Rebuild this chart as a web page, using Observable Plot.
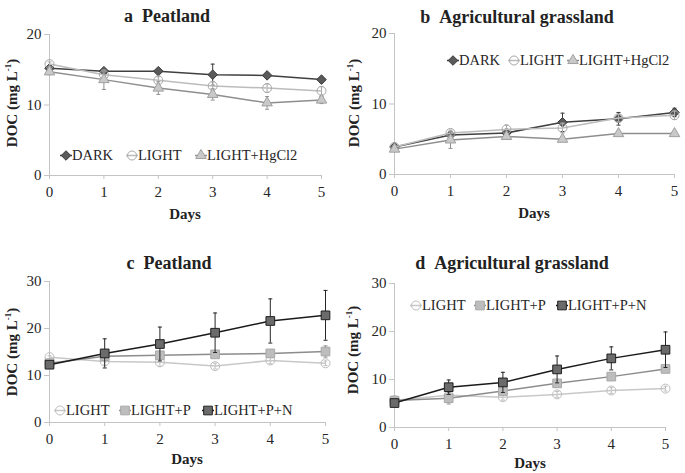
<!DOCTYPE html>
<html><head><meta charset="utf-8">
<script src="https://cdn.jsdelivr.net/npm/d3@7"></script>
<script src="https://cdn.jsdelivr.net/npm/@observablehq/plot@0.6"></script>
<style>
body{margin:0;background:#fff;}
#fig{position:relative;width:685px;height:473px;font-family:"Liberation Serif","Times New Roman",serif;color:#222;overflow:hidden;}
.title{position:absolute;font-weight:bold;font-size:18px;white-space:nowrap;transform:translate(-50%,-50%);}
.xlab{position:absolute;font-weight:bold;font-size:15px;white-space:nowrap;transform:translate(-50%,-50%);}
.ylab{position:absolute;font-weight:bold;font-size:15px;white-space:nowrap;transform:translate(-50%,-50%) rotate(-90deg);}
.ylab sup{font-size:9px;}
.leg{position:absolute;font-size:14.5px;white-space:nowrap;display:flex;align-items:center;transform:translateY(-50%);color:#262626;}
.leg svg{display:block;}
</style></head><body><div id="fig"></div>
<script>
// ---------------- data ----------------
const days = [0, 1, 2, 3, 4, 5];
const ticks20 = [0, 10, 20];
const ticks30 = [0, 10, 20, 30];

// a  Peatland
const aDark = [15.2, 14.8, 14.8, 14.3, 14.2, 13.6];
const aDarkErr = [0.3, 0.2, 0.2, 1.5, 0.3, 0.3];
const aLight = [15.8, 14.3, 13.5, 12.7, 12.4, 12.0];
const aLightErr = [0.3, 0.4, 0.5, 0.6, 0.6, 0.6];
const aHg = [14.7, 13.6, 12.4, 11.5, 10.3, 10.7];
const aHgErr = [0.4, 1.4, 0.9, 0.8, 0.9, 0.5];

// b  Agricultural grassland
const bDark = [3.9, 5.6, 5.9, 7.4, 7.9, 8.8];
const bDarkErr = [0.2, 0.4, 0.5, 1.3, 0.9, 0.6];
const bLight = [3.9, 5.9, 6.4, 6.6, 8.0, 8.4];
const bLightErr = [0.2, 0.4, 0.6, 0.7, 0.5, 0.6];
const bHg = [3.6, 4.9, 5.4, 5.0, 5.8, 5.8];
const bHgErr = [0.2, 1.2, 0.4, 0.3, 0.3, 0.3];

// c  Peatland (nutrients)
const cLight = [13.9, 13.0, 12.8, 12.0, 13.2, 12.6];
const cLightErr = [0.3, 0.8, 0.8, 0.6, 0.7, 0.5];
const cP = [12.6, 14.1, 14.3, 14.5, 14.7, 15.1];
const cPErr = [0.3, 0.8, 0.7, 0.5, 0.5, 1.2];
const cPN = [12.3, 14.7, 16.7, 19.1, 21.6, 22.8];
const cPNErr = [0.3, 3.1, 3.6, 4.2, 4.7, 5.3];

// d  Agricultural grassland (nutrients)
const dLight = [5.7, 6.7, 6.3, 6.9, 7.7, 8.1];
const dLightErr = [0.3, 0.8, 0.6, 0.6, 0.6, 0.5];
const dP = [5.6, 6.1, 7.6, 9.2, 10.6, 12.2];
const dPErr = [0.4, 1.2, 0.7, 0.8, 0.6, 0.6];
const dPN = [5.1, 8.4, 9.4, 12.1, 14.4, 16.2];
const dPNErr = [0.4, 1.5, 2.1, 2.8, 2.4, 3.7];

// ---------------- styles ----------------
const axisColor = "#c4c4c4";
const textColor = "#262626";
const styles = {
  DARK:   {symbol: "diamond2", d3sym: d3.symbolDiamond2, r: 4.3, fill: "#5a5a5a", stroke: "#3a3a3a", line: "#404040", err: "#3a3a3a"},
  LIGHT:  {symbol: "circle",   d3sym: d3.symbolCircle,   r: 4.5, fill: "none",    stroke: "#a8a8a8", line: "#bcbcbc", err: "#a8a8a8"},
  HG:     {symbol: "triangle", d3sym: d3.symbolTriangle, r: 3.9, fill: "#c9c9c9", stroke: "#a0a0a0", line: "#8e8e8e", err: "#8e8e8e"},
  P:      {symbol: "square",   d3sym: d3.symbolSquare,   r: 4.9, fill: "#bdbdbd", stroke: "#a8a8a8", line: "#8c8c8c", err: "#8c8c8c"},
  PN:     {symbol: "square",   d3sym: d3.symbolSquare,   r: 4.9, fill: "#6b6b6b", stroke: "#202020", line: "#1a1a1a", err: "#262626"},
  LIGHT2: {symbol: "circle",   d3sym: d3.symbolCircle,   r: 4.5, fill: "none",    stroke: "#bdbdbd", line: "#c8c8c8", err: "#bdbdbd"}
};
const cap = {draw(ctx) { ctx.moveTo(-2, 0); ctx.lineTo(2, 0); }};

const panels = [
  {title: "a\u2002Peatland", tx: 167, ty: 16, left: 0, top: 20, width: 340, height: 200,
   mt: 14, mb: 45, ml: 49, mr: 19, yMax: 20, yTicks: ticks20, ylx: 12, yly: 103, xlx: 185, xly: 214,
   series: [["DARK", "DARK", aDark, aDarkErr], ["LIGHT", "LIGHT", aLight, aLightErr], ["LIGHT+HgCl2", "HG", aHg, aHgErr]],
   legend: {y: 155, xs: [60, 126, 195]}},
  {title: "b\u2002Agricultural grassland", tx: 517, ty: 17, left: 340, top: 20, width: 345, height: 200,
   mt: 13, mb: 46, ml: 54, mr: 11, yMax: 20, yTicks: ticks20, ylx: 354, yly: 103, xlx: 534, xly: 213,
   series: [["DARK", "DARK", bDark, bDarkErr], ["LIGHT", "LIGHT", bLight, bLightErr], ["LIGHT+HgCl2", "HG", bHg, bHgErr]],
   legend: {y: 60, xs: [447, 508, 567]}},
  {title: "c\u2002Peatland", tx: 169, ty: 263, left: 0, top: 265, width: 340, height: 208,
   mt: 16, mb: 51, ml: 49, mr: 15, yMax: 30, yTicks: ticks30, ylx: 12, yly: 352, xlx: 187, xly: 459,
   series: [["LIGHT", "LIGHT2", cLight, cLightErr], ["LIGHT+P", "P", cP, cPErr], ["LIGHT+P+N", "PN", cPN, cPNErr]],
   legend: {y: 410, xs: [54, 119, 202]}},
  {title: "d\u2002Agricultural grassland", tx: 512, ty: 263, left: 340, top: 265, width: 345, height: 208,
   mt: 18, mb: 46, ml: 54, mr: 20, yMax: 30, yTicks: ticks30, ylx: 353, yly: 350, xlx: 530, xly: 463,
   series: [["LIGHT", "LIGHT2", dLight, dLightErr], ["LIGHT+P", "P", dP, dPErr], ["LIGHT+P+N", "PN", dPN, dPNErr]],
   legend: {y: 305, xs: [410, 474, 556]}}
];

const fig = document.getElementById("fig");

function div(cls, html, x, y) {
  const e = document.createElement("div");
  e.className = cls;
  e.innerHTML = html;
  e.style.left = x + "px";
  e.style.top = y + "px";
  fig.appendChild(e);
  return e;
}

for (const p of panels) {
  const marks = [
    Plot.ruleY([0], {stroke: axisColor}),
    Plot.ruleX([0], {stroke: axisColor}),
    Plot.axisX({ticks: days, tickSize: 4, tickPadding: 7, stroke: axisColor, fill: textColor, fontSize: 15, label: null, tickFormat: d3.format("d")}),
    Plot.axisY({ticks: p.yTicks, tickSize: 5, tickPadding: 3, stroke: axisColor, fill: textColor, fontSize: 15, label: null, tickFormat: d3.format("d")})
  ];
  for (const [name, key, vals, errs] of p.series) {
    const st = styles[key];
    const rows = days.map((d, i) => ({day: d, v: vals[i], lo: vals[i] - errs[i], hi: vals[i] + errs[i]}));
    marks.push(Plot.ruleX(rows, {x: "day", y1: "lo", y2: "hi", stroke: st.err, strokeWidth: 1}));
    marks.push(Plot.dot(rows, {x: "day", y: "hi", symbol: cap, fill: "none", stroke: st.err, strokeWidth: 1}));
    marks.push(Plot.dot(rows, {x: "day", y: "lo", symbol: cap, fill: "none", stroke: st.err, strokeWidth: 1}));
    marks.push(Plot.line(rows, {x: "day", y: "v", stroke: st.line, strokeWidth: 1.5}));
    marks.push(Plot.dot(rows, {x: "day", y: "v", symbol: st.symbol, r: st.r, fill: st.fill, stroke: st.stroke, strokeWidth: 1}));
  }
  const svg = Plot.plot({
    width: p.width, height: p.height,
    marginTop: p.mt, marginBottom: p.mb, marginLeft: p.ml, marginRight: p.mr,
    x: {domain: [0, 5]},
    y: {domain: [0, p.yMax]},
    style: {fontFamily: '"Liberation Serif", "Times New Roman", serif', fontSize: "15px", background: "transparent", overflow: "visible", color: textColor},
    marks
  });
  svg.style.position = "absolute";
  svg.style.left = p.left + "px";
  svg.style.top = p.top + "px";
  fig.appendChild(svg);

  div("title", p.title, p.tx, p.ty);
  div("ylab", "DOC (mg L<sup>-1</sup>)", p.ylx, p.yly);
  div("xlab", "Days", p.xlx, p.xly);

  p.series.forEach(([name, key], i) => {
    const st = styles[key];
    const size = Math.PI * st.r * st.r;
    const path = d3.symbol(st.d3sym, size)();
    const sw = 12, sh = 14;
    const html = `<svg width="${sw}" height="${sh}"><line x1="0" x2="${sw}" y1="${sh / 2}" y2="${sh / 2}" stroke="${st.line}" stroke-width="1.5"/>` +
      `<path d="${path}" transform="translate(${sw / 2},${sh / 2})" fill="${st.fill}" stroke="${st.stroke}" stroke-width="1"/></svg><span>${name}</span>`;
    div("leg", html, p.legend.xs[i], p.legend.y);
  });
}
</script></body></html>
